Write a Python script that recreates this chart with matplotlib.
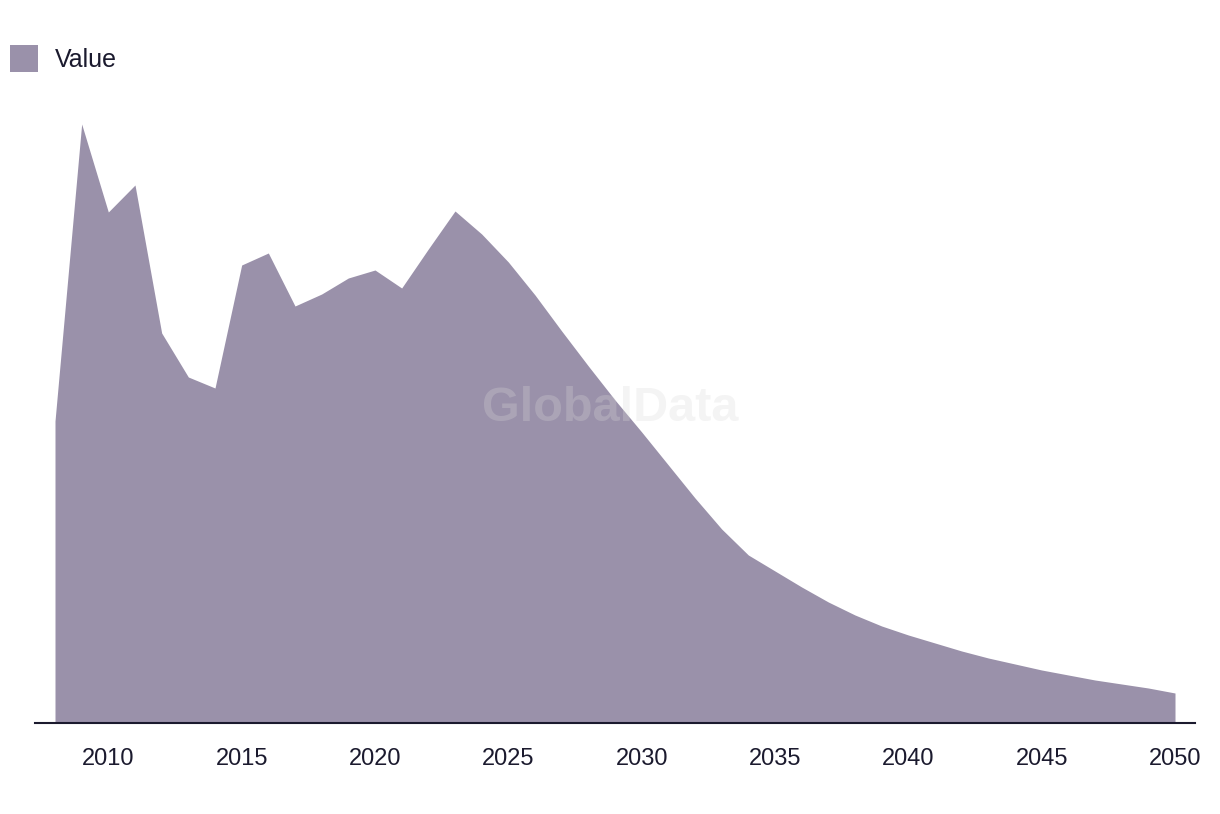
import matplotlib
matplotlib.use("Agg")
import matplotlib.pyplot as plt
from matplotlib.patches import Patch

years = list(range(2008, 2051))
values = [302, 599, 511, 538, 390, 346, 335, 458, 470, 417,
          429, 445, 453, 435, 474, 512, 489, 461, 428, 392,
          357, 323, 291, 258, 225, 194, 168, 152, 136, 121,
          108, 97, 88, 80, 72, 65, 59, 53, 48, 43,
          39, 35, 30]
tick_years = [2010, 2015, 2020, 2025, 2030, 2035, 2040, 2045, 2050]

fill_color = '#9a91aa'
text_color = '#1b1a2e'

plt.rcParams['font.family'] = ['Liberation Sans', 'DejaVu Sans']

W, H = 1220, 814
fig = plt.figure(figsize=(W / 100, H / 100), dpi=100)
ax = fig.add_axes([35 / W, 91 / H, 1160 / W, 623 / H])

ax.fill_between(years, values, 0, color=fill_color, linewidth=0, label='Value')

ax.set_xlim(2007.25, 2050.75)
ax.set_ylim(0, 623)
ax.set_xticks(tick_years)
ax.set_xticklabels([str(y) for y in tick_years])
ax.tick_params(axis='x', length=0, pad=18, labelsize=17, labelcolor=text_color)
ax.set_yticks([])
for side in ['left', 'right', 'top']:
    ax.spines[side].set_visible(False)
ax.spines['bottom'].set_color(text_color)
ax.spines['bottom'].set_linewidth(1.5)

# watermark
fig.text(610 / W, 1 - 409 / H, 'GlobalData', ha='center', va='center',
         fontsize=35, fontweight='bold', color='#d8d8d8', alpha=0.28)

fig.legend(handles=[Patch(facecolor=fill_color, edgecolor='none', label='Value')],
           loc='upper left', bbox_to_anchor=(10 / W, 1 - 45 / H),
           frameon=False, fontsize=18, labelcolor=text_color,
           handlelength=1.12, handleheight=1.31, handletextpad=0.68,
           borderpad=0, borderaxespad=0)

fig.savefig('out.png', dpi=100)
